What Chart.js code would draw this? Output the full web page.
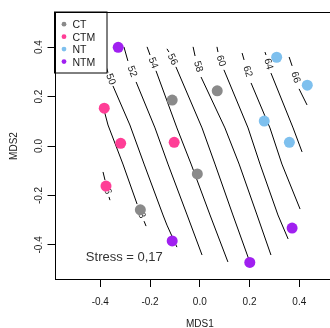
<!DOCTYPE html>
<html><head><meta charset="utf-8">
<script src="https://cdn.jsdelivr.net/npm/chart.js@4"></script>
<style>html,body{margin:0;padding:0;overflow:hidden;background:#fff;width:330px;height:328px}canvas{display:block}</style>
</head><body>
<canvas id="c" width="360" height="328"></canvas>
<script>
// ---- data ----
const groups = ['CT', 'CTM', 'NT', 'NTM'];
const groupColors = ['#8a8a8a', '#FF3E96', '#7EC0EE', '#A020F0'];
const ctX = [-0.239, -0.111, 0.070, -0.010];
const ctY = [-0.258, 0.186, 0.223, -0.113];
const ctmX = [-0.384, -0.318, -0.377, -0.103];
const ctmY = [0.153, 0.011, -0.162, 0.015];
const ntX = [0.309, 0.432, 0.259, 0.360];
const ntY = [0.359, 0.246, 0.101, 0.015];
const ntmX = [-0.328, -0.111, 0.201, 0.371];
const ntmY = [0.399, -0.384, -0.471, -0.332];

const xTicks = [-0.4, -0.2, 0.0, 0.2, 0.4];
const yTicks = [-0.4, -0.2, 0.0, 0.2, 0.4];
const xRange = [-0.584, 0.584];
const yRange = [-0.542, 0.542];
const xTitle = 'MDS1';
const yTitle = 'MDS2';
const stressText = 'Stress = 0,17';
const stressPos = [-0.458, -0.467];

// fitted surface contours: level, piece before label, piece after label
const contourLevels = [46, 48, 50, 52, 54, 56, 58, 60, 62, 64, 66];
const contourA = [
  [[-0.389,-0.105],[-0.381,-0.138]],
  [[-0.385,0.146],[-0.369,0.085],[-0.309,-0.073],[-0.252,-0.235]],
  [[-0.375,0.316],[-0.369,0.297]],
  [[-0.305,0.401],[-0.289,0.344]],
  [[-0.212,0.401],[-0.200,0.368]],
  [[-0.132,0.393],[-0.124,0.380]],
  [[-0.027,0.401],[-0.019,0.364]],
  [[0.069,0.401],[0.073,0.380]],
  [[0.170,0.376],[0.178,0.348]],
  [[0.262,0.380],[0.266,0.368]],
  [[0.359,0.360],[0.371,0.324]]
];
const contourB = [
  [[-0.365,-0.206],[-0.361,-0.219]],
  [[-0.224,-0.304],[-0.216,-0.324]],
  [[-0.349,0.243],[-0.281,0.085],[-0.224,-0.073],[-0.148,-0.279],[-0.132,-0.320],[-0.092,-0.409]],
  [[-0.256,0.259],[-0.180,0.073],[-0.128,-0.073],[-0.051,-0.279],[0.009,-0.441]],
  [[-0.176,0.304],[-0.092,0.073],[-0.035,-0.073],[0.041,-0.279],[0.113,-0.469]],
  [[-0.096,0.320],[0.009,0.073],[0.061,-0.073],[0.133,-0.279],[0.198,-0.461]],
  [[0.005,0.279],[0.101,0.073],[0.158,-0.073],[0.230,-0.279],[0.286,-0.441]],
  [[0.097,0.308],[0.194,0.073],[0.242,-0.073],[0.314,-0.279],[0.355,-0.376]],
  [[0.206,0.255],[0.282,0.073],[0.330,-0.073],[0.403,-0.255]],
  [[0.286,0.295],[0.375,0.073],[0.411,-0.024]],
  [[0.399,0.231],[0.431,0.166]]
];

// ---- build ----
const FONT = '"Liberation Sans", Arial, sans-serif';
const TXT = '#1a1a1a';
const toPts = (xs, ys) => xs.map((x, i) => ({x: x, y: ys[i]}));
const groupData = [toPts(ctX, ctY), toPts(ctmX, ctmY), toPts(ntX, ntY), toPts(ntmX, ntmY)];

const datasets = [];
groupData.forEach((d, i) => datasets.push({
  label: groups[i], data: d, order: 0,
  pointRadius: 5.5, pointHoverRadius: 5.5, pointBorderWidth: 0,
  backgroundColor: groupColors[i], borderColor: groupColors[i], showLine: false
}));
const lineDs = (pts) => ({
  data: pts.map(p => ({x: p[0], y: p[1]})), order: 1, showLine: true,
  borderColor: '#000', borderWidth: 1, pointRadius: 0, pointHoverRadius: 0, tension: 0, fill: false
});
contourLevels.forEach((lv, i) => { datasets.push(lineDs(contourA[i])); datasets.push(lineDs(contourB[i])); });

const decor = {
  id: 'decor',
  beforeDatasetsDraw(chart) {
    const ctx = chart.ctx, xs = chart.scales.x, ys = chart.scales.y;
    ctx.save();
    ctx.fillStyle = TXT;
    ctx.font = '10px ' + FONT;
    ctx.textAlign = 'center'; ctx.textBaseline = 'middle';
    contourLevels.forEach((lv, i) => {
      const a = contourA[i][contourA[i].length - 1], b = contourB[i][0];
      const ax = xs.getPixelForValue(a[0]), ay = ys.getPixelForValue(a[1]);
      const bx = xs.getPixelForValue(b[0]), by = ys.getPixelForValue(b[1]);
      let ang = Math.atan2(by - ay, bx - ax);
      if (ang > Math.PI / 2) ang -= Math.PI;
      if (ang < -Math.PI / 2) ang += Math.PI;
      ctx.save();
      ctx.translate((ax + bx) / 2, (ay + by) / 2);
      ctx.rotate(ang);
      ctx.fillText(String(lv), 0, 0);
      ctx.restore();
    });
    ctx.restore();
  },
  afterDatasetsDraw(chart) {
    const ctx = chart.ctx, xs = chart.scales.x, ys = chart.scales.y, ca = chart.chartArea;
    ctx.save();
    // legend
    const lx0 = ca.left, ly0 = ca.top, lx1 = 107, ly1 = 73;
    ctx.fillStyle = '#fff';
    ctx.fillRect(lx0, ly0, lx1 - lx0, ly1 - ly0);
    ctx.strokeStyle = '#000'; ctx.lineWidth = 1;
    ctx.strokeRect(lx0, ly0, lx1 - lx0, ly1 - ly0);
    ctx.font = '10.5px ' + FONT;
    ctx.textAlign = 'left'; ctx.textBaseline = 'middle';
    groups.forEach((g, i) => {
      const y = 25 + i * 12.45;
      ctx.fillStyle = groupColors[i];
      ctx.beginPath(); ctx.arc(64, y - 0.8, 2.4, 0, Math.PI * 2); ctx.fill();
      ctx.fillStyle = TXT;
      ctx.fillText(g, 72.5, y + 0.5);
    });
    // frame
    ctx.strokeStyle = '#000'; ctx.lineWidth = 1;
    ctx.strokeRect(Math.round(ca.left) + 0.5, Math.round(ca.top) + 0.5,
      Math.round(ca.right) - Math.round(ca.left), Math.round(ca.bottom) - Math.round(ca.top) - 1);
    // stress
    ctx.fillStyle = '#333';
    ctx.font = '13px ' + FONT;
    ctx.textAlign = 'left'; ctx.textBaseline = 'alphabetic';
    ctx.fillText(stressText, xs.getPixelForValue(stressPos[0]), ys.getPixelForValue(stressPos[1]));
    // y tick labels (rotated)
    ctx.fillStyle = TXT;
    ctx.font = '10px ' + FONT;
    ctx.textAlign = 'center'; ctx.textBaseline = 'middle';
    yTicks.forEach(v => {
      ctx.save();
      ctx.translate(39, ys.getPixelForValue(v));
      ctx.rotate(-Math.PI / 2);
      ctx.fillText(v.toFixed(1), 0, 0);
      ctx.restore();
    });
    // axis titles
    ctx.fillText(xTitle, (ca.left + ca.right) / 2, 324.5);
    ctx.save();
    ctx.translate(14, (ca.top + ca.bottom) / 2);
    ctx.rotate(-Math.PI / 2);
    ctx.fillText(yTitle, 0, 0);
    ctx.restore();
    ctx.restore();
  }
};

new Chart(document.getElementById('c'), {
  type: 'scatter',
  data: { datasets: datasets },
  options: {
    responsive: false, animation: false, events: [],
    layout: { padding: { top: 12, right: 14.9, bottom: 0, left: 0 } },
    plugins: { legend: { display: false }, tooltip: { enabled: false } },
    scales: {
      x: {
        type: 'linear', min: xRange[0], max: xRange[1],
        afterBuildTicks: s => { s.ticks = xTicks.map(v => ({ value: v })); },
        afterFit: s => { s.height = 48; },
        grid: { display: true, drawOnChartArea: false, drawTicks: true, tickLength: 7, color: '#000', lineWidth: 1 },
        border: { display: false },
        ticks: { color: TXT, font: { family: FONT, size: 10 }, padding: 9, maxRotation: 0, autoSkip: false,
          callback: v => Number(v).toFixed(1) }
      },
      y: {
        type: 'linear', min: yRange[0], max: yRange[1],
        afterBuildTicks: s => { s.ticks = yTicks.map(v => ({ value: v })); },
        afterFit: s => { s.width = 54.5; },
        grid: { display: true, drawOnChartArea: false, drawTicks: true, tickLength: 7, color: '#000', lineWidth: 1 },
        border: { display: false },
        ticks: { padding: 0, callback: () => '' }
      }
    }
  },
  plugins: [decor]
});
</script>
</body></html>
